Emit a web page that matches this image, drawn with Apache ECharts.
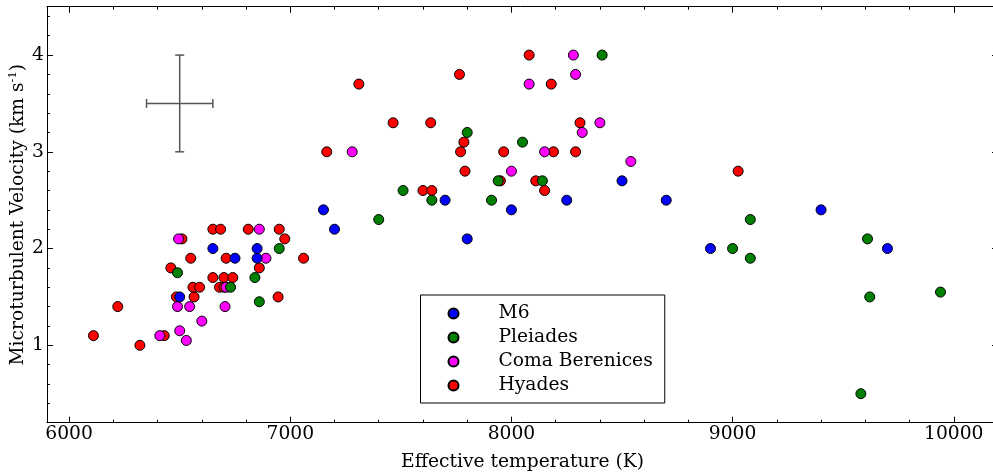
<!DOCTYPE html>
<html>
<head>
<meta charset="utf-8">
<script src="https://cdn.jsdelivr.net/npm/echarts@6/dist/echarts.min.js"></script>
<style>html,body{margin:0;padding:0;background:#fff;}#chart{width:993px;height:473px;}</style>
</head>
<body>
<div id="chart"></div>
<script>
// ---- data ----
const m6T   = [6500, 6750, 6850, 6650, 6850, 7150, 7200, 7700, 7800, 8000, 8250, 8500, 8700, 8900, 9400, 9700];
const m6V   = [1.5, 1.9, 1.9, 2.0, 2.0, 2.4, 2.2, 2.5, 2.1, 2.4, 2.5, 2.7, 2.5, 2.0, 2.4, 2.0];

const pleT  = [6490, 6730, 6860, 6840, 6950, 7400, 7510, 7640, 7800, 7910, 7940, 8050, 8140, 8410, 9000, 9080, 9080, 9610, 9620, 9940, 9580];
const pleV  = [1.75, 1.6, 1.45, 1.7, 2.0, 2.3, 2.6, 2.5, 3.2, 2.5, 2.7, 3.1, 2.7, 4.0, 2.0, 2.3, 1.9, 2.1, 1.5, 1.55, 0.5];

const comaT = [6410, 6500, 6530, 6600, 6490, 6545, 6705, 6710, 6890, 6860, 6495, 7280, 8000, 8080, 8280, 8290, 8150, 8320, 8400, 8540];
const comaV = [1.1, 1.15, 1.05, 1.25, 1.4, 1.4, 1.4, 1.6, 1.9, 2.2, 2.1, 3.0, 2.8, 3.7, 4.0, 3.8, 3.0, 3.2, 3.3, 2.9];

const hyaT  = [6110, 6220, 6320, 6430, 6485, 6565, 6945, 6560, 6590, 6680, 6700, 6650, 6700, 6740, 6460, 6860, 6550, 6710, 7060, 6510, 6975, 6650, 6685, 6810, 6950, 7165, 7310, 7465, 7635, 7765, 7770, 7785, 7790, 7600, 7640, 7950, 7965, 8080, 8180, 8110, 8150, 8190, 8290, 8310, 9025];
const hyaV  = [1.1, 1.4, 1.0, 1.1, 1.5, 1.5, 1.5, 1.6, 1.6, 1.6, 1.6, 1.7, 1.7, 1.7, 1.8, 1.8, 1.9, 1.9, 1.9, 2.1, 2.1, 2.2, 2.2, 2.2, 2.2, 3.0, 3.7, 3.3, 3.3, 3.8, 3.0, 3.1, 2.8, 2.6, 2.6, 2.7, 3.0, 4.0, 3.7, 2.7, 2.6, 3.0, 3.0, 3.3, 2.8];

// typical error bar: [Teff, vt, dTeff, dvt]
const errBar = [6500, 3.5, 150, 0.5];

const xMajorTicks = [6000, 7000, 8000, 9000, 10000];
const xMinorTicks = [6000, 6200, 6400, 6600, 6800, 7000, 7200, 7400, 7600, 7800, 8000, 8200, 8400, 8600, 8800, 9000, 9200, 9400, 9600, 9800, 10000, 10200];
const yMajorTicks = [1, 2, 3, 4];
const yMinorTicks = [0.2, 0.4, 0.6, 0.8, 1.0, 1.2, 1.4, 1.6, 1.8, 2.0, 2.2, 2.4, 2.6, 2.8, 3.0, 3.2, 3.4, 3.6, 3.8, 4.0, 4.2, 4.4];

const seriesNames = ['M6', 'Pleiades', 'Coma Berenices', 'Hyades'];
const seriesColors = ['#0000ff', '#008000', '#ff00ff', '#ff0000'];

const X_MIN = 5900, X_MAX = 10200, Y_MIN = 0.2, Y_MAX = 4.5;
const FONT = 'DejaVu Serif';
const FS = 18.7;

function zip(a, b) { return a.map((v, i) => [v, b[i]]); }
function plain(v) { return String(v); }

function axisBase(extra) {
  return Object.assign({
    type: 'value',
    splitLine: { show: false },
    axisLine: { show: false, onZero: false, lineStyle: { color: '#000', width: 1 } },
    axisTick: { show: true, inside: true, length: 6, lineStyle: { color: '#000', width: 1 } },
    axisLabel: { show: false },
    silent: true
  }, extra);
}

const xAxes = [
  axisBase({
    position: 'bottom', min: X_MIN, max: X_MAX,
    axisLine: { show: true, onZero: false, lineStyle: { color: '#000', width: 1 } },
    axisTick: { show: true, inside: true, length: 6, customValues: xMajorTicks, lineStyle: { color: '#000', width: 1 } },
    axisLabel: { show: true, customValues: xMajorTicks, formatter: plain, margin: 2, fontSize: FS, fontFamily: FONT, color: '#000' },
    name: 'Effective temperature (K)', nameLocation: 'middle', nameGap: 30, nameMoveOverlap: false,
    nameTextStyle: { fontSize: FS, fontFamily: FONT, color: '#000' }
  }),
  axisBase({
    position: 'bottom', min: X_MIN, max: X_MAX,
    axisTick: { show: true, inside: true, length: 3, customValues: xMinorTicks, lineStyle: { color: '#000', width: 1 } }
  }),
  axisBase({
    position: 'top', min: X_MIN, max: X_MAX,
    axisLine: { show: true, onZero: false, lineStyle: { color: '#000', width: 1 } },
    axisTick: { show: true, inside: true, length: 6, customValues: xMajorTicks, lineStyle: { color: '#000', width: 1 } }
  }),
  axisBase({
    position: 'top', min: X_MIN, max: X_MAX,
    axisTick: { show: true, inside: true, length: 3, customValues: xMinorTicks, lineStyle: { color: '#000', width: 1 } }
  })
];

const yAxes = [
  axisBase({
    position: 'left', min: Y_MIN, max: Y_MAX,
    axisLine: { show: true, onZero: false, lineStyle: { color: '#000', width: 1 } },
    axisTick: { show: true, inside: true, length: 6, customValues: yMajorTicks, lineStyle: { color: '#000', width: 1 } },
    axisLabel: { show: true, customValues: yMajorTicks, formatter: plain, margin: 3, fontSize: FS, fontFamily: FONT, color: '#000' },
    name: 'Microturbulent Velocity (km s{sup|-1})', nameLocation: 'middle', nameGap: 18, nameRotate: 90, nameMoveOverlap: false,
    nameTextStyle: {
      fontSize: FS, fontFamily: FONT, color: '#000', lineHeight: 22,
      rich: { sup: { fontSize: 11.5, fontFamily: FONT, color: '#000', verticalAlign: 'top', lineHeight: 22, padding: [0, 0, 10, 0] } }
    }
  }),
  axisBase({
    position: 'left', min: Y_MIN, max: Y_MAX,
    axisTick: { show: true, inside: true, length: 3, customValues: yMinorTicks, lineStyle: { color: '#000', width: 1 } }
  }),
  axisBase({
    position: 'right', min: Y_MIN, max: Y_MAX,
    axisLine: { show: true, onZero: false, lineStyle: { color: '#000', width: 1 } },
    axisTick: { show: true, inside: true, length: 6, customValues: yMajorTicks, lineStyle: { color: '#000', width: 1 } }
  }),
  axisBase({
    position: 'right', min: Y_MIN, max: Y_MAX,
    axisTick: { show: true, inside: true, length: 3, customValues: yMinorTicks, lineStyle: { color: '#000', width: 1 } }
  })
];

function scatter(name, color, t, v) {
  return {
    type: 'scatter', name: name, xAxisIndex: 0, yAxisIndex: 0,
    data: zip(t, v), symbol: 'circle', symbolSize: 10,
    itemStyle: { color: color, borderColor: '#000', borderWidth: 1, opacity: 1 },
    emphasis: { disabled: true }
  };
}

const option = {
  animation: false,
  backgroundColor: '#fff',
  grid: { left: 47, top: 6.7, width: 951, height: 416, containLabel: false, outerBoundsMode: 'none' },
  xAxis: xAxes,
  yAxis: yAxes,
  legend: {
    data: seriesNames,
    orient: 'vertical', left: 420.5, top: 295,
    backgroundColor: '#fff', borderColor: '#000', borderWidth: 1, borderRadius: 0,
    padding: [8.5, 12, 7.5, 27],
    itemWidth: 10, itemHeight: 10, itemGap: 4,
    icon: 'circle',
    formatter: '{t|{name}}',
    textStyle: {
      fontSize: FS, fontFamily: FONT, color: '#000', lineHeight: 20,
      rich: { t: { fontSize: FS, fontFamily: FONT, color: '#000', lineHeight: 20, padding: [0, 0, 0, 35] } }
    },
    selectedMode: false
  },
  series: [
    scatter(seriesNames[3], seriesColors[3], hyaT, hyaV),
    scatter(seriesNames[2], seriesColors[2], comaT, comaV),
    scatter(seriesNames[1], seriesColors[1], pleT, pleV),
    scatter(seriesNames[0], seriesColors[0], m6T, m6V),
    {
      type: 'custom', name: 'errbar', xAxisIndex: 0, yAxisIndex: 0,
      data: [errBar], silent: true, z: 1,
      renderItem: function (params, api) {
        const x = api.value(0), y = api.value(1), dx = api.value(2), dy = api.value(3);
        const l = api.coord([x - dx, y]), r = api.coord([x + dx, y]);
        const t = api.coord([x, y + dy]), b = api.coord([x, y - dy]);
        const cap = 4.5;
        const st = { stroke: '#555', lineWidth: 1.5 };
        const line = (x1, y1, x2, y2) => ({ type: 'line', shape: { x1, y1, x2, y2 }, style: st });
        return {
          type: 'group',
          children: [
            line(l[0], l[1], r[0], r[1]),
            line(t[0], t[1], b[0], b[1]),
            line(l[0], l[1] - cap, l[0], l[1] + cap),
            line(r[0], r[1] - cap, r[0], r[1] + cap),
            line(t[0] - cap, t[1], t[0] + cap, t[1]),
            line(b[0] - cap, b[1], b[0] + cap, b[1])
          ]
        };
      }
    }
  ]
};

const chart = echarts.init(document.getElementById('chart'), null, { renderer: 'canvas' });
chart.setOption(option);
</script>
</body>
</html>
